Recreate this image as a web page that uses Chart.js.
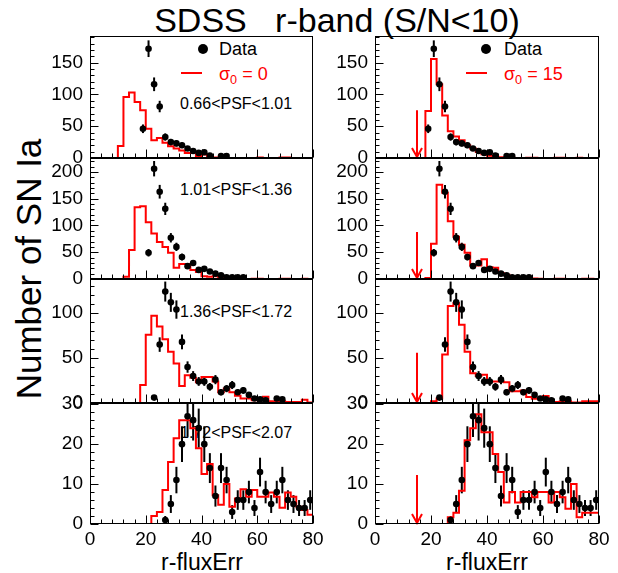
<!DOCTYPE html>
<html><head><meta charset="utf-8">
<script src="https://cdn.jsdelivr.net/npm/chart.js@4.4.1/dist/chart.umd.min.js"></script>
<style>
html,body{margin:0;padding:0;background:#fff}
body{width:618px;height:573px;position:relative;overflow:hidden;font-family:"Liberation Sans",Arial,Helvetica,sans-serif;color:#000}
canvas{position:absolute}
.t{position:absolute;white-space:pre;line-height:1}
.c{transform:translate(-50%,-50%)}
.v{transform:translateY(-50%)}
.dot{position:absolute;width:10px;height:10px;border-radius:50%;background:#000;transform:translate(-50%,-50%)}
.rl{position:absolute;height:2px;background:#f00}
sub{font-size:70%;vertical-align:-0.3em;line-height:0}
</style></head><body>
<div class="t c" style="left:337px;top:20px;font-size:34px">SDSS   r-band (S/N&lt;10)</div>
<div class="t" style="left:28px;top:269px;font-size:35px;transform:translate(-50%,-50%) rotate(-90deg)">Number of SN Ia</div>
<div class="t c" style="left:202px;top:562px;font-size:23px">r-fluxErr</div>
<div class="t c" style="left:487px;top:562px;font-size:23px">r-fluxErr</div>

<div class="dot" style="left:203px;top:49px"></div>
<div class="t v" style="left:219px;top:49px;font-size:18px">Data</div>
<div class="rl" style="left:181px;top:72px;width:21px"></div>
<div class="t v" style="left:219px;top:74px;font-size:18px;color:#f00">σ<sub>0</sub> = 0</div>

<div class="dot" style="left:486px;top:49px"></div>
<div class="t v" style="left:504px;top:49px;font-size:18px">Data</div>
<div class="rl" style="left:466px;top:72px;width:21px"></div>
<div class="t v" style="left:504px;top:74px;font-size:18px;color:#f00">σ<sub>0</sub> = 15</div>

<div class="t v" style="left:180px;top:104px;font-size:16px">0.66&lt;PSF&lt;1.01</div>
<div class="t v" style="left:180px;top:190px;font-size:16px">1.01&lt;PSF&lt;1.36</div>
<div class="t v" style="left:180px;top:312px;font-size:16px">1.36&lt;PSF&lt;1.72</div>
<div class="t v" style="left:180px;top:433px;font-size:16px">1.72&lt;PSF&lt;2.07</div>

<script>
// ---- Data: 40 bins of width 2 from 0 to 80 (r-fluxErr) ----
const BIN_W = 2;
const X_MIN = 0, X_MAX = 80;
const xTicks = [0, 20, 40, 60, 80];

// Observed SN Ia counts per bin (same data in both columns)
const dataPSF1 = [0,0,0,0,0,0,0,0,0,46,172,116,81,33,25,23,20,15,11,8,9,4,0,3,3,0,0,0,0,0,0,0,0,0,0,0,0,0,0,0];
const dataPSF2 = [0,0,0,0,0,0,0,0,0,0,49,206,163,131,77,60,41,24,30,17,19,14,10,7,3,3,3,3,0,0,0,0,0,0,0,0,0,0,0,0];
const dataPSF3 = [0,0,0,0,0,0,0,0,0,0,0,6,65,124,112,104,68,40,30,24,24,18,26,12,16,20,12,14,9,5,4,3,0,5,4,0,0,0,0,0];
const dataPSF4 = [0,0,0,0,0,0,0,0,0,0,0,0,0,1,5,11,20,27,26,24,20,14,7,14,11,3,6,6,8,4,13,8,5,8,11,6,5,4,4,6];

// Simulated histograms, sigma0 = 0 (left column)
const sim0PSF1 = [0,0,0,0,0,19,96,103,88,75,46,28,31.5,24,18.5,15,12,8,8,3,5.5,1,0.8,0.4,0,0,0,0,0,0,0.6,0,0,0,0.6,0.6,0,0,0,0];
const sim0PSF2 = [0,0,0,0,0,0,4,54,134,136,106,85,69,60,49,21,28,28,17,13,5,4,5,2,1,0.5,0,0,0,0.5,0.5,0,0,0,0.5,0.5,0,0,0.5,0];
const sim0PSF3 = [0,0,0,0,0,0,0,0,0,20,76,97,85,71,57,44,19,31,28,23,29,29,24,12,16,12,8,5,5,3,3,7,2,2,2,1,1,1,3.7,0.5];
const sim0PSF4 = [0,0,0,0,0,0,0,0,0,0,0,2,3,8.5,15.5,21.5,26,26,24,19,12.5,15,7.2,4.8,10,4.3,6.4,8.7,6.8,8.5,6.8,6.8,7.9,6.8,4.1,7.9,6.8,4.3,3.5,2.3];

// Simulated histograms, sigma0 = 15 (right column)
const sim15PSF1 = [0,0,0,0,0,0,0,0,0,74,156,116,67,42,34,28,20,15,9.5,6,3.7,2.6,1,0.5,0.5,0,0,0.5,0.5,0,0,0,0.5,0.5,0,0,0.5,0,0,0];
const sim15PSF2 = [0,0,0,0,0,0,0,0,0,2,66,176,161,108,79,64,49,25,25,37,22,21,11,8,4,2.5,2.5,2.5,1,0.5,0,0,0.5,0.5,0,0,0,0.5,0.5,0];
const sim15PSF3 = [0,0,0,0,0,0,0,0,0,0,2,5,54,108,111,87,57,33,30,31.5,24,24,24,23,13,13,14,6.7,4.8,4.8,7.8,1,1,2,2,0.5,0.5,2,2,2];
const sim15PSF4 = [0,0,0,0,0,0,0,0,0,0,0,0,0,1.7,2.8,8.3,21,24,27.5,23,23,17.5,13,5.4,8,5.4,8,8,6.7,8,8,5.4,8,6.7,3.8,10,1.7,2.8,2.8,2.8];

// sigma0 marker (arrow) position and arrow heights per row (right column)
const sigma0Marker = 15;
const arrowTops = [75, 88, 56, 12.3];

// Y axis ranges and tick labels per row
const yMaxes = [192, 226, 138, 30.3];
const yTickLabels = [[0,50,100,150],[0,50,100,150,200],[0,50,100],[0,10,20,30]];
const yMinorSteps = [10, 10, 10, 2];
const xMinorStep = 4;

const dataRows = [dataPSF1, dataPSF2, dataPSF3, dataPSF4];
const simRows = [[sim0PSF1, sim15PSF1],[sim0PSF2, sim15PSF2],[sim0PSF3, sim15PSF3],[sim0PSF4, sim15PSF4]];

// ---- Layout ----
const COL_L = [90, 375], COL_R = [313, 599];
const ROW_T = [36, 158, 279, 403], ROW_B = [158, 279, 403, 524];
const FONT = '"Liberation Sans", Arial, Helvetica, sans-serif';

const rootStyle = {
  id: 'rootStyle',
  beforeDatasetsDraw(chart) {
    const o = chart.options.plugins.rootStyle;
    const {ctx, chartArea: a} = chart;
    const x = chart.scales.x, y = chart.scales.y;
    ctx.save();
    ctx.beginPath(); ctx.rect(a.left, a.top, a.right - a.left, a.bottom - a.top); ctx.clip();
    // Poisson error bars on the data counts
    ctx.strokeStyle = '#000'; ctx.lineWidth = 2;
    o.counts.forEach((n, i) => {
      if (!(n > 0)) return;
      const e = Math.sqrt(n);
      const px = x.getPixelForValue(X_MIN + i * BIN_W + BIN_W / 2);
      ctx.beginPath();
      ctx.moveTo(px, y.getPixelForValue(n - e));
      ctx.lineTo(px, y.getPixelForValue(n + e));
      ctx.stroke();
    });
    ctx.restore();
  },
  afterDatasetsDraw(chart) {
    const o = chart.options.plugins.rootStyle;
    const {ctx} = chart;
    const x = chart.scales.x, y = chart.scales.y;
    if (o.arrowTop != null) {
      const px = Math.round(x.getPixelForValue(o.arrowX));
      const y0 = y.getPixelForValue(0), y1 = y.getPixelForValue(o.arrowTop);
      ctx.save();
      ctx.strokeStyle = '#f00'; ctx.lineWidth = 2;
      ctx.beginPath(); ctx.moveTo(px, y1); ctx.lineTo(px, y0 - 1); ctx.stroke();
      ctx.beginPath(); ctx.moveTo(px - 5, y0 - 10); ctx.lineTo(px, y0 - 1); ctx.lineTo(px + 5, y0 - 10); ctx.stroke();
      ctx.restore();
    }
  },
  afterDraw(chart) {
    const o = chart.options.plugins.rootStyle;
    const {ctx, chartArea: a} = chart;
    const x = chart.scales.x, y = chart.scales.y;
    ctx.save();
    ctx.strokeStyle = '#000'; ctx.lineWidth = 1;
    const L = Math.round(a.left) + 0.5, R = Math.round(a.right) - 0.5;
    const T = Math.round(a.top) + 0.5, B = Math.round(a.bottom) - 0.5;
    ctx.strokeRect(L, T, R - L, B - T);
    ctx.beginPath();
    for (let v = 0; v <= o.yMax + 1e-6; v += o.yMinor) {
      const py = Math.round(y.getPixelForValue(v)) + 0.5;
      const len = o.yMajor.includes(v) ? 8 : 4;
      ctx.moveTo(L, py); ctx.lineTo(L + len, py);
    }
    for (let v = X_MIN; v <= X_MAX + 1e-6; v += xMinorStep) {
      const px = Math.round(x.getPixelForValue(v)) + 0.5;
      const len = xTicks.includes(v) ? 8 : 4;
      ctx.moveTo(px, B); ctx.lineTo(px, B - len);
    }
    ctx.stroke();
    ctx.restore();
  }
};
Chart.register(rootStyle);

function makePanel(r, c) {
  const L = COL_L[c], R = COL_R[c], T = ROW_T[r], B = ROW_B[r];
  const isBottom = r === 3;
  const axisW = 88, padTop = 14, padRight = 16, padBottom = isBottom ? 0 : 14, xAxisH = 34;
  const w = (R - L) + axisW + padRight;
  const h = (B - T) + padTop + (isBottom ? xAxisH : padBottom);
  const cv = document.createElement('canvas');
  cv.width = w; cv.height = h;
  cv.style.left = (L - axisW) + 'px'; cv.style.top = (T - padTop) + 'px';
  cv.style.width = w + 'px'; cv.style.height = h + 'px';
  document.body.appendChild(cv);

  const counts = dataRows[r];
  const sim = simRows[r][c];
  const histPts = sim.map((v, i) => ({x: X_MIN + i * BIN_W, y: v}));
  histPts.push({x: X_MAX, y: 0});
  const dataPts = [];
  counts.forEach((v, i) => { if (v > 0) dataPts.push({x: X_MIN + i * BIN_W + BIN_W / 2, y: v}); });

  new Chart(cv, {
    type: 'line',
    data: {
      datasets: [
        {label: c === 0 ? 'σ0 = 0' : 'σ0 = 15', data: histPts, stepped: 'before', borderColor: '#ff0000', borderWidth: 2, pointRadius: 0, fill: false, order: 2},
        {label: 'Data', type: 'scatter', data: dataPts, showLine: false, pointRadius: 3.3, pointBackgroundColor: '#000', pointBorderColor: '#000', pointBorderWidth: 0, order: 1}
      ]
    },
    options: {
      responsive: false, maintainAspectRatio: false, animation: false, devicePixelRatio: 1,
      layout: {padding: {top: padTop, right: padRight, bottom: padBottom, left: 0}},
      plugins: {
        legend: {display: false}, tooltip: {enabled: false},
        rootStyle: {counts, yMax: yMaxes[r], yMajor: yTickLabels[r], yMinor: yMinorSteps[r],
          arrowX: sigma0Marker, arrowTop: c === 1 ? arrowTops[r] : null}
      },
      scales: {
        x: {
          type: 'linear', min: X_MIN, max: X_MAX, display: isBottom,
          grid: {display: false, drawTicks: false}, border: {display: false},
          afterBuildTicks: s => { s.ticks = xTicks.map(v => ({value: v})); },
          afterFit: s => { s.height = isBottom ? xAxisH : 0; s.paddingLeft = 0; s.paddingRight = 0; },
          ticks: {color: '#000', font: {family: FONT, size: 19}, padding: 4, maxRotation: 0, autoSkip: false}
        },
        y: {
          type: 'linear', min: 0, max: yMaxes[r],
          grid: {display: false, drawTicks: false}, border: {display: false},
          afterBuildTicks: s => { s.ticks = yTickLabels[r].map(v => ({value: v})); },
          afterFit: s => { s.width = axisW; s.paddingTop = 0; s.paddingBottom = 0; },
          ticks: {color: '#000', font: {family: FONT, size: 19}, padding: 7, autoSkip: false}
        }
      }
    }
  });
}
for (let r = 0; r < 4; r++) for (let c = 0; c < 2; c++) makePanel(r, c);
</script>
</body></html>
